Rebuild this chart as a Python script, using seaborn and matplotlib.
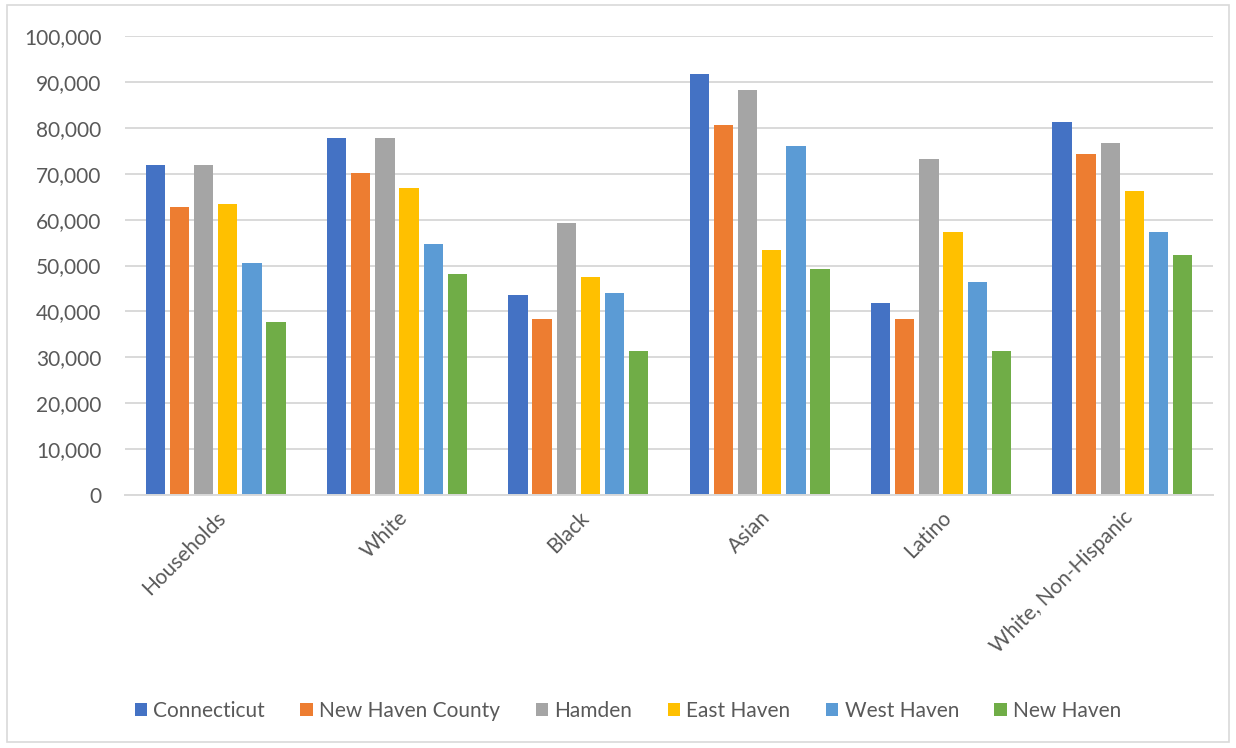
import matplotlib
matplotlib.use("Agg")
import matplotlib.pyplot as plt
from matplotlib.patches import Rectangle
from matplotlib.ticker import FuncFormatter
import seaborn as sns
import pandas as pd

# Median household income by race/ethnicity of householder
categories = ["Households", "White", "Black", "Asian", "Latino", "White, Non-Hispanic"]
regions = ["Connecticut", "New Haven County", "Hamden", "East Haven", "West Haven", "New Haven"]

connecticut = [72000, 77800, 43500, 91700, 41800, 81300]
new_haven_county = [62700, 70200, 38300, 80700, 38300, 74300]
hamden = [72000, 77800, 59200, 88200, 73100, 76600]
east_haven = [63300, 66800, 47600, 53400, 57400, 66200]
west_haven = [50500, 54600, 44100, 76000, 46400, 57400]
new_haven = [37700, 48100, 31300, 49300, 31300, 52200]

colors = ["#4472C4", "#ED7D31", "#A5A5A5", "#FFC000", "#5B9BD5", "#70AD47"]

series = [connecticut, new_haven_county, hamden, east_haven, west_haven, new_haven]
rows = []
for region, vals in zip(regions, series):
    for cat, v in zip(categories, vals):
        rows.append({"category": cat, "region": region, "income": v})
df = pd.DataFrame(rows)

sns.set_theme(style="white")
plt.rcParams["font.family"] = ["Lato", "DejaVu Sans"]

fig = plt.figure(figsize=(12.36, 7.48), dpi=100)
ax = fig.add_axes([125 / 1236, 1 - 495 / 748, (1213 - 125) / 1236, (495 - 36) / 748])

sns.barplot(data=df, x="category", y="income", hue="region", order=categories,
            hue_order=regions, palette=colors, width=0.8, gap=0.2,
            saturation=1, linewidth=0, ax=ax)

ax.set_ylim(0, 100000)
ax.set_yticks(range(0, 100001, 10000))
ax.yaxis.set_major_formatter(FuncFormatter(lambda v, p: f"{int(v):,}"))
ax.grid(axis="y", color="#d9d9d9", linewidth=1.4)
ax.set_axisbelow(True)
for s in ["top", "right", "left"]:
    ax.spines[s].set_visible(False)
ax.spines["bottom"].set_color("#d9d9d9")
ax.spines["bottom"].set_linewidth(1.4)
ax.set_xlabel("")
ax.set_ylabel("")
ax.tick_params(axis="both", length=0, colors="#595959", labelsize=15)
ax.tick_params(axis="y", pad=17)
ax.tick_params(axis="x", pad=9)
for lab in ax.get_xticklabels():
    lab.set_rotation(45)
    lab.set_ha("right")
    lab.set_rotation_mode("anchor")

handles, labels = ax.get_legend_handles_labels()
ax.get_legend().remove()
leg = fig.legend(handles, labels, loc="center",
                 bbox_to_anchor=(0.5 + 10 / 1236, 1 - 711 / 748),
                 ncol=6, frameon=False, fontsize=15, handlelength=0.6,
                 handleheight=0.6, handletextpad=0.3, columnspacing=1.7)
for t in leg.get_texts():
    t.set_color("#595959")

fig.patches.append(Rectangle((7 / 1236, 6 / 748), 1222 / 1236, 737 / 748,
                             transform=fig.transFigure, fill=False,
                             edgecolor="#d9d9d9", linewidth=1.2))

fig.savefig("out.png", dpi=100)
